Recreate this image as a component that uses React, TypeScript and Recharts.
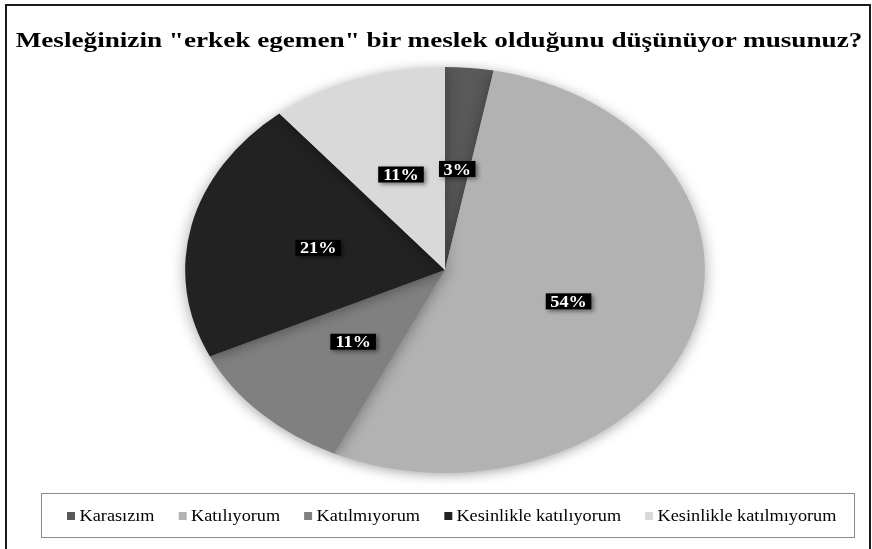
import React from "react";
import { Cell, Pie, PieChart } from "recharts";

const TITLE = 'Mesleğinizin "erkek egemen" bir meslek olduğunu düşünüyor musunuz?';
const categories = [
  "Karasızım",
  "Katılıyorum",
  "Katılmıyorum",
  "Kesinlikle katılıyorum",
  "Kesinlikle katılmıyorum",
];
const values = [3, 54, 11, 21, 11];
const colors = ["#595959", "#b2b2b2", "#808080", "#222222", "#d9d9d9"];

const data = categories.map((name, i) => ({ name, value: values[i] }));

// the source chart is stretched sideways: pie more than the text
const PIE_STRETCH = 1.28;
const TEXT_STRETCH = 1.14;
const TITLE_STRETCH = 1.235;
const SIZE = 440;
const RADIAN = Math.PI / 180;
const SERIF = "'Liberation Serif', 'Times New Roman', serif";

function labelWidth(s: string) {
  let w = 0;
  for (const ch of s) w += ch === "%" ? 16 : 8;
  return w + 8;
}

function renderLabel(props: any) {
  const { cx, cy, midAngle, outerRadius, value } = props;
  const r = outerRadius * 0.5;
  const x = cx + r * Math.cos(-midAngle * RADIAN);
  const y = cy + r * Math.sin(-midAngle * RADIAN);
  const text = `${value}%`;
  const w = labelWidth(text);
  const h = 16;
  return (
    <g transform={`translate(${x},${y}) scale(${TEXT_STRETCH / PIE_STRETCH},1)`}>
      <rect
        x={-w / 2}
        y={-h / 2}
        width={w}
        height={h}
        fill="#000"
        style={{ filter: "drop-shadow(2px 2px 2px rgba(0,0,0,0.45))" }}
      />
      <text
        x={0}
        y={0.5}
        textAnchor="middle"
        dominantBaseline="central"
        fill="#fff"
        fontFamily={SERIF}
        fontWeight="bold"
        fontSize={16}
      >
        {text}
      </text>
    </g>
  );
}

export default function App() {
  return (
    <div
      style={{
        position: "absolute",
        left: 0,
        top: 0,
        width: 872,
        height: 549,
        overflow: "hidden",
        background: "#fff",
      }}
    >
      <div
        style={{
          position: "absolute",
          left: 5,
          top: 4,
          width: 862,
          height: 600,
          border: "2px solid #1a1a1a",
        }}
      />
      <div
        style={{
          position: "absolute",
          left: 0,
          top: 28.6,
          width: 878,
          textAlign: "center",
          fontFamily: SERIF,
          fontWeight: "bold",
          fontSize: 22,
          lineHeight: "22px",
          color: "#000",
          whiteSpace: "nowrap",
          transform: `scaleX(${TITLE_STRETCH})`,
          transformOrigin: "439px 0",
        }}
      >
        {TITLE}
      </div>

      <div
        style={{
          position: "absolute",
          left: 445.4 - SIZE / 2,
          top: 270 - SIZE / 2,
          width: SIZE,
          height: SIZE,
          transform: `scaleX(${PIE_STRETCH})`,
          transformOrigin: `${SIZE / 2}px ${SIZE / 2}px`,
        }}
      >
        <PieChart width={SIZE} height={SIZE} margin={{ top: 0, right: 0, bottom: 0, left: 0 }}>
          <Pie
            data={data}
            dataKey="value"
            nameKey="name"
            cx={SIZE / 2}
            cy={SIZE / 2}
            outerRadius={203}
            startAngle={90}
            endAngle={-270}
            stroke="none"
            label={renderLabel}
            labelLine={false}
            isAnimationActive={false}
            style={{ filter: "drop-shadow(0px 2px 6px rgba(0,0,0,0.35))" }}
          >
            {data.map((d, i) => (
              <Cell key={d.name} fill={colors[i]} />
            ))}
          </Pie>
        </PieChart>
      </div>

      <div
        style={{
          position: "absolute",
          left: 41,
          top: 493,
          width: 812,
          height: 43,
          border: "1.5px solid #8c8c8c",
          fontFamily: SERIF,
          fontSize: 16,
          color: "#000",
        }}
      >
        <div
          style={{
            position: "absolute",
            left: 25,
            top: 0,
            height: 43,
            display: "flex",
            alignItems: "center",
            whiteSpace: "nowrap",
            transform: `scaleX(${TEXT_STRETCH})`,
            transformOrigin: "0 50%",
          }}
        >
          {categories.map((c, i) => (
            <div
              key={c}
              style={{ display: "flex", alignItems: "center", marginRight: 21 }}
            >
              <span
                style={{
                  display: "inline-block",
                  width: 7,
                  height: 8,
                  background: colors[i],
                  marginRight: 4,
                }}
              />
              <span>{c}</span>
            </div>
          ))}
        </div>
      </div>
    </div>
  );
}
